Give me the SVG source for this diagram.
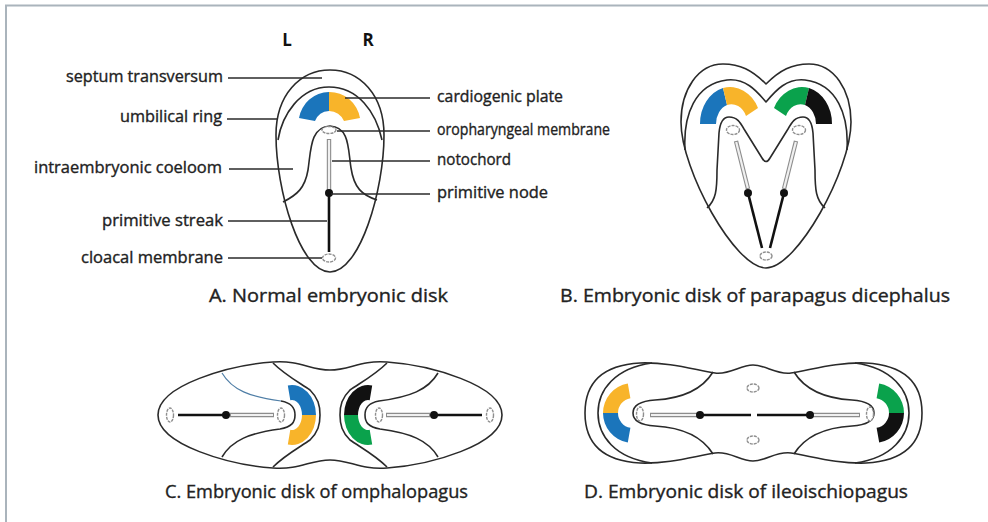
<svg xmlns="http://www.w3.org/2000/svg" width="988" height="522" viewBox="0 0 988 522">
  <style>
    .ln { fill: none; stroke: #2a2a2a; stroke-width: 1.6; stroke-linejoin: round; }
    .lead { fill: none; stroke: #2a2a2a; stroke-width: 1.4; }
    .thin-blue { fill: none; stroke: #4f7ea6; stroke-width: 1.2; }
    .memb { fill: #ffffff; stroke: #8f8f8f; stroke-width: 1.4; stroke-dasharray: 3 1; }
    .noto { stroke: #8c8c8c; stroke-width: 4.4; }
    .noto-in { stroke: #f0f0f0; stroke-width: 2.2; }
    .streak { stroke: #111111; stroke-width: 2.6; }
    .node { fill: #111111; }
    .blue { fill: #1b75bb; }
    .orange { fill: #f8b42a; }
    .green { fill: #0aa24c; }
    .black { fill: #111111; }
    .lbl { font-family: "Open Sans", "Liberation Sans", sans-serif; font-size: 15.5px; fill: #222222; stroke: #222222; stroke-width: 0.35; }
    .cap { font-family: "Open Sans", "Liberation Sans", sans-serif; font-size: 18px; fill: #222222; stroke: #222222; stroke-width: 0.35; }
    .lr { font-family: "Open Sans", "Liberation Sans", sans-serif; font-size: 17px; font-weight: bold; fill: #111111; }
  </style>

  <!-- frame -->
  <g id="frame">
    <line x1="5" y1="5.5" x2="988" y2="5.5" stroke="#aab4bc" stroke-width="2"/>
    <line x1="6" y1="5" x2="6" y2="522" stroke="#aab4bc" stroke-width="2"/>
  </g>

  <!-- A. normal embryonic disk -->
  <g id="disk-a">
    <path class="ln" d="M330,70 C360,70 384,95 384,135 C384,190 360,272 330,272 C300,272 276,190 276,135 C276,95 300,70 330,70 Z"/>
    <path class="ln" d="M278,140 C282,115 300,87 329,87 C358,87 376,112 382,140"/>
    <path class="ln" d="M283,202 C297,195 305,188 308,170 C311,150 310,127 330,126 C350,127 348,150 351,168 C354,188 362,195 377,200"/>
    <path class="blue" d="M299,118 A31,31 0 0,1 329,92 L329,111 A16,16 0 0,0 315,121 Z"/>
    <path class="orange" d="M329,92 A31,31 0 0,1 360,118 L344,121 A16,16 0 0,0 329,111 Z"/>
    <ellipse class="memb" cx="329" cy="130" rx="7" ry="3.5"/>
    <line class="noto" x1="329" y1="139" x2="329" y2="192"/>
    <line class="noto-in" x1="329" y1="140" x2="329" y2="191"/>
    <line class="streak" x1="329" y1="193" x2="329" y2="252"/>
    <circle class="node" cx="329" cy="193" r="4"/>
    <ellipse class="memb" cx="329" cy="258" rx="6.5" ry="4"/>
  </g>

  <!-- A. labels -->
  <g id="labels-a">
    <text class="lr" x="287" y="46" text-anchor="middle">L</text>
    <text class="lr" x="368" y="46" text-anchor="middle">R</text>
    <text class="lbl" x="223" y="82" text-anchor="end" textLength="157" lengthAdjust="spacingAndGlyphs">septum transversum</text>
    <text class="lbl" x="222" y="122" text-anchor="end" textLength="102" lengthAdjust="spacingAndGlyphs">umbilical ring</text>
    <text class="lbl" x="222" y="173" text-anchor="end" textLength="188" lengthAdjust="spacingAndGlyphs">intraembryonic coeloom</text>
    <text class="lbl" x="223" y="226" text-anchor="end" textLength="121" lengthAdjust="spacingAndGlyphs">primitive streak</text>
    <text class="lbl" x="223" y="263" text-anchor="end" textLength="142" lengthAdjust="spacingAndGlyphs">cloacal membrane</text>
    <text class="lbl" x="437" y="102" textLength="126" lengthAdjust="spacingAndGlyphs">cardiogenic plate</text>
    <text class="lbl" x="437" y="135" textLength="173" lengthAdjust="spacingAndGlyphs">oropharyngeal membrane</text>
    <text class="lbl" x="437" y="165" textLength="74" lengthAdjust="spacingAndGlyphs">notochord</text>
    <text class="lbl" x="437" y="198" textLength="111" lengthAdjust="spacingAndGlyphs">primitive node</text>
    <text class="cap" x="209" y="302" textLength="239" lengthAdjust="spacingAndGlyphs">A. Normal embryonic disk</text>
  </g>

  <!-- B. parapagus dicephalus -->
  <g id="disk-b">
    <path class="ln" d="M766,84 C752,70 740,64 723,64 C698,64 681,90 681,122 C681,170 735,268 766,268 C797,268 851,170 851,122 C851,90 834,64 809,64 C792,64 780,70 766,84 Z"/>
    <path class="ln" d="M685,150 C683,115 695,84 727,80 C745,78 756,90 766,102 C776,90 787,78 805,80 C837,84 849,115 847,150"/>
    <path class="ln" d="M707,208 C716,200 717,190 717,170 L719,133 C720,122 723,117 729,117 C737,117 740,122 744,129 L762,158 Q766,165 770,158 L788,129 C792,122 795,117 803,117 C809,117 812,122 813,133 L815,170 C815,190 816,200 825,208"/>
    <path class="blue" d="M700,124 A31,37 0 0,1 723,88 L727,105 A16,20 0 0,0 716,124 Z"/>
    <path class="orange" d="M723,88 A31,37 0 0,1 758,108 L746,116 A16,20 0 0,0 727,105 Z"/>
    <path class="green" d="M809,88 A31,37 0 0,0 774,108 L786,116 A16,20 0 0,1 805,105 Z"/>
    <path class="black" d="M832,124 A31,37 0 0,0 809,88 L805,105 A16,20 0 0,1 816,124 Z"/>
    <ellipse class="memb" cx="733" cy="130" rx="6.5" ry="4.5"/>
    <ellipse class="memb" cx="799" cy="130" rx="6.5" ry="4.5"/>
    <line class="noto" x1="736" y1="141" x2="748" y2="189"/>
    <line class="noto-in" x1="736.2" y1="142" x2="747.8" y2="188"/>
    <line class="noto" x1="796" y1="141" x2="784" y2="189"/>
    <line class="noto-in" x1="795.8" y1="142" x2="784.2" y2="188"/>
    <line class="streak" x1="748" y1="193" x2="762" y2="248"/>
    <line class="streak" x1="784" y1="193" x2="770" y2="248"/>
    <circle class="node" cx="748" cy="193" r="4"/>
    <circle class="node" cx="784" cy="193" r="4"/>
    <ellipse class="memb" cx="766" cy="256" rx="6" ry="4"/>
    <text class="cap" x="560" y="302" textLength="390" lengthAdjust="spacingAndGlyphs">B. Embryonic disk of parapagus dicephalus</text>
  </g>

  <!-- C. omphalopagus -->
  <g id="disk-c">
    <path class="ln" d="M158,415 C158,385 230,365 273,362 C300,360 310,370 330,370 C350,370 360,360 387,362 C430,365 502,385 502,415 C502,445 430,465 387,468 C360,470 350,460 330,460 C310,460 300,470 273,468 C230,465 158,445 158,415 Z"/>
    <!-- left twin -->
    <path class="ln" d="M273,363 C285,375 300,383 310,390 C318,398 320,405 320,415 C320,425 318,432 310,440 C300,447 285,455 273,467"/>
    <path class="thin-blue" d="M222,373 C232,390 250,397 281,401"/>
    <path class="ln" d="M281,401 C292,403 295,408 295,415 C295,422 292,427 280,429 C250,433 232,440 222,457"/>
    <path class="blue" d="M287.8,385.5 A24,30 0 0,1 316,415 L302,415 A10,15 0 0,0 290.3,400.2 Z"/>
    <path class="orange" d="M316,415 A24,30 0 0,1 287.8,444.5 L290.3,429.8 A10,15 0 0,0 302,415 Z"/>
    <line class="streak" x1="178" y1="415" x2="226" y2="415"/>
    <line class="noto" x1="230" y1="415" x2="274" y2="415"/>
    <line class="noto-in" x1="231" y1="415" x2="273" y2="415"/>
    <circle class="node" cx="226" cy="415" r="4"/>
    <ellipse class="memb" cx="170" cy="415" rx="3.5" ry="7"/>
    <ellipse class="memb" cx="281" cy="415" rx="3.5" ry="7"/>
    <!-- right twin -->
    <path class="ln" d="M387,363 C375,375 360,383 350,390 C342,398 340,405 340,415 C340,425 342,432 350,440 C360,447 375,455 387,467"/>
    <path class="ln" d="M438,373 C428,390 410,397 379,401 C368,403 365,408 365,415 C365,422 368,427 380,429 C410,433 428,440 438,457"/>
    <path class="black" d="M372.2,385.5 A24,30 0 0,0 344,415 L358,415 A10,15 0 0,1 369.7,400.2 Z"/>
    <path class="green" d="M344,415 A24,30 0 0,0 372.2,444.5 L369.7,429.8 A10,15 0 0,1 358,415 Z"/>
    <line class="noto" x1="386" y1="415" x2="430" y2="415"/>
    <line class="noto-in" x1="387" y1="415" x2="429" y2="415"/>
    <line class="streak" x1="434" y1="415" x2="482" y2="415"/>
    <circle class="node" cx="434" cy="415" r="4"/>
    <ellipse class="memb" cx="379" cy="415" rx="3.5" ry="7"/>
    <ellipse class="memb" cx="490" cy="415" rx="3.5" ry="7"/>
    <text class="cap" x="165" y="498" textLength="303" lengthAdjust="spacingAndGlyphs">C. Embryonic disk of omphalopagus</text>
  </g>

  <!-- D. ileoischiopagus -->
  <g id="disk-d">
    <path class="ln" d="M585,413 C585,380 605,365 640,363 C670,362 695,370 715,373 C730,375 740,365 753,365 C766,365 776,375 791,373 C811,370 836,362 866,363 C901,365 922,380 922,413 C922,446 901,461 866,463 C836,464 811,456 791,453 C776,451 766,461 753,461 C740,461 730,451 715,453 C695,456 670,464 640,463 C605,461 585,446 585,413 Z"/>
    <path class="ln" d="M652,363 C615,368 598,390 598,413 C598,436 615,458 652,463"/>
    <path class="ln" d="M855,363 C892,368 909,390 909,413 C909,436 892,458 855,463"/>
    <path class="ln" d="M713,372 C705,385 690,398 655,400 C640,401 633,405 633,413 C633,421 640,425 655,426 C690,428 705,441 713,454"/>
    <path class="ln" d="M794,372 C802,385 817,398 852,400 C867,401 874,405 874,413 C874,421 867,425 852,426 C817,428 802,441 794,454"/>
    <path class="orange" d="M603,413 A30,30 0 0,1 627.8,383.5 L630.4,398.2 A15,15 0 0,0 618,413 Z"/>
    <path class="blue" d="M603,413 A30,30 0 0,0 627.8,442.5 L630.4,427.8 A15,15 0 0,1 618,413 Z"/>
    <path class="green" d="M904,413 A30,30 0 0,0 879.2,383.5 L876.6,398.2 A15,15 0 0,1 889,413 Z"/>
    <path class="black" d="M904,413 A30,30 0 0,1 879.2,442.5 L876.6,427.8 A15,15 0 0,0 889,413 Z"/>
    <line class="noto" x1="650" y1="415" x2="700" y2="415"/>
    <line class="noto-in" x1="651" y1="415" x2="699" y2="415"/>
    <line class="noto" x1="810" y1="415" x2="860" y2="415"/>
    <line class="noto-in" x1="811" y1="415" x2="859" y2="415"/>
    <line class="streak" x1="700" y1="415" x2="751" y2="415"/>
    <line class="streak" x1="757" y1="415" x2="810" y2="415"/>
    <circle class="node" cx="700" cy="415" r="4"/>
    <circle class="node" cx="810" cy="415" r="4"/>
    <ellipse class="memb" cx="640" cy="414" rx="3.5" ry="7"/>
    <ellipse class="memb" cx="870" cy="414" rx="3.5" ry="7"/>
    <ellipse class="memb" cx="753" cy="388" rx="6" ry="4"/>
    <ellipse class="memb" cx="753" cy="440" rx="6" ry="4"/>
    <text class="cap" x="584" y="498" textLength="324" lengthAdjust="spacingAndGlyphs">D. Embryonic disk of ileoischiopagus</text>
  </g>

  <!-- leader lines -->
  <g id="connectors">
    <line class="lead" x1="228" y1="78" x2="322" y2="78"/>
    <line class="lead" x1="227" y1="119" x2="277" y2="119"/>
    <line class="lead" x1="229" y1="169" x2="293" y2="169"/>
    <line class="lead" x1="228" y1="221" x2="327" y2="221"/>
    <line class="lead" x1="228" y1="258" x2="322" y2="258"/>
    <line class="lead" x1="345" y1="98" x2="430" y2="98"/>
    <line class="lead" x1="337" y1="131" x2="430" y2="131"/>
    <line class="lead" x1="332" y1="161" x2="430" y2="161"/>
    <line class="lead" x1="331" y1="194" x2="430" y2="194"/>
  </g>
</svg>
